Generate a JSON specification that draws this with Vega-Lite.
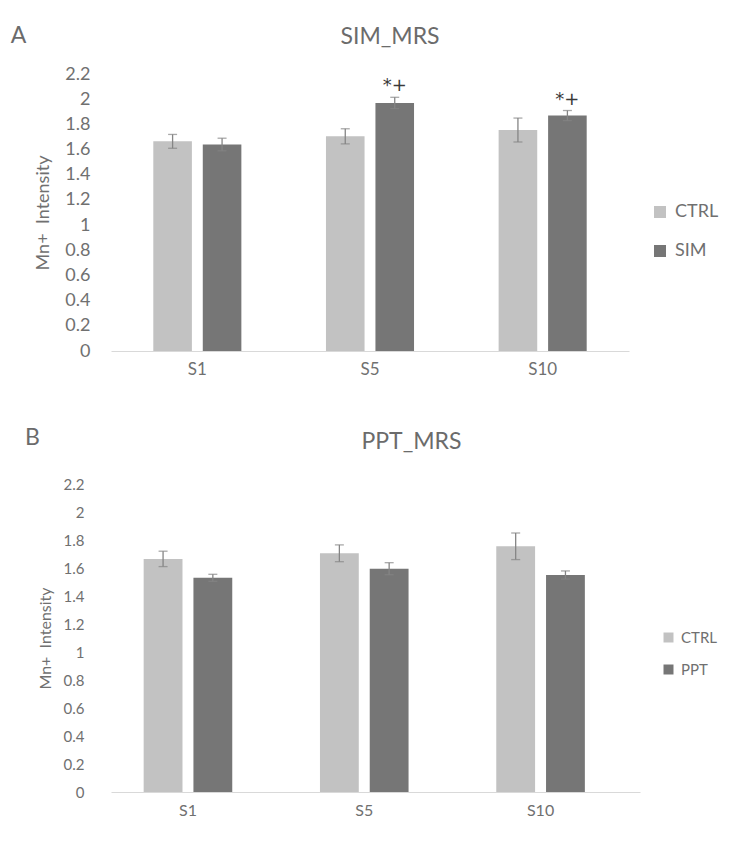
{
  "$schema": "https://vega.github.io/schema/vega-lite/v6.json",
  "padding": {"left": 10, "top": 25, "right": 5, "bottom": 5},
  "background": "white",
  "datasets": {
    "sim": [
      {"s": "S1", "g": "CTRL", "v": 1.665, "lo": 1.61, "hi": 1.72, "star": ""},
      {"s": "S1", "g": "SIM", "v": 1.64, "lo": 1.59, "hi": 1.69, "star": ""},
      {"s": "S5", "g": "CTRL", "v": 1.705, "lo": 1.645, "hi": 1.765, "star": ""},
      {"s": "S5", "g": "SIM", "v": 1.97, "lo": 1.925, "hi": 2.015, "star": "*+"},
      {"s": "S10", "g": "CTRL", "v": 1.755, "lo": 1.66, "hi": 1.85, "star": ""},
      {"s": "S10", "g": "SIM", "v": 1.87, "lo": 1.83, "hi": 1.91, "star": "*+"}
    ],
    "ppt": [
      {"s": "S1", "g": "CTRL", "v": 1.665, "lo": 1.61, "hi": 1.72},
      {"s": "S1", "g": "PPT", "v": 1.53, "lo": 1.505, "hi": 1.555},
      {"s": "S5", "g": "CTRL", "v": 1.705, "lo": 1.645, "hi": 1.765},
      {"s": "S5", "g": "PPT", "v": 1.595, "lo": 1.552, "hi": 1.638},
      {"s": "S10", "g": "CTRL", "v": 1.755, "lo": 1.66, "hi": 1.85},
      {"s": "S10", "g": "PPT", "v": 1.55, "lo": 1.521, "hi": 1.579}
    ]
  },
  "spacing": 50,
  "resolve": {
    "scale": {"x": "independent", "y": "independent", "color": "independent", "xOffset": "independent"},
    "axis": {"x": "independent", "y": "independent"},
    "legend": {"color": "independent"}
  },
  "vconcat": [
    {
      "title": {"text": "A", "anchor": "start", "frame": "bounds", "dx": -24, "offset": -22, "fontSize": 23, "font": "Lato", "fontWeight": "normal", "color": "#6b6b6b"},
      "vconcat": [
        {
          "title": {"text": "SIM_MRS", "anchor": "middle", "frame": "group", "dx": 20, "offset": 16, "fontSize": 23, "font": "Lato", "fontWeight": "normal", "color": "#6b6b6b"},
          "width": 518,
          "height": 277,
          "data": {"name": "sim"},
          "encoding": {
            "x": {"field": "s", "type": "nominal", "sort": ["S1", "S5", "S10"],
                  "scale": {"paddingInner": 0.49, "paddingOuter": 0.245},
                  "axis": {"title": null, "labelAngle": 0, "labelFontSize": 17, "labelPadding": 10, "ticks": false, "domain": true, "domainColor": "#d9d9d9", "labelColor": "#707070", "labelFont": "Lato"}},
            "xOffset": {"field": "g", "type": "nominal", "sort": ["CTRL", "SIM"], "scale": {"paddingInner": 0.22, "paddingOuter": 0}}
          },
          "layer": [
            {
              "mark": {"type": "bar"},
              "encoding": {
                "y": {"field": "v", "type": "quantitative", "scale": {"domain": [0, 2.2], "nice": false},
                      "axis": {"title": "Mn+\u00a0\u00a0Intensity", "values": [0, 0.2, 0.4, 0.6, 0.8, 1, 1.2, 1.4, 1.6, 1.8, 2, 2.2], "format": ".1~f", "labelOverlap": false, "labelBound": false, "labelFlush": false, "grid": false, "domain": false, "ticks": false, "labelPadding": 21, "labelFontSize": 18, "titleFontSize": 18, "titleFontWeight": "normal", "titlePadding": 12, "labelColor": "#707070", "titleColor": "#707070", "labelFont": "Lato", "titleFont": "Lato"}},
                "color": {"field": "g", "type": "nominal", "scale": {"domain": ["CTRL", "SIM"], "range": ["#c2c2c2", "#767676"]},
                          "legend": {"title": null, "orient": "none", "legendX": 540, "legendY": 129, "symbolType": "square", "symbolSize": 144, "symbolStrokeWidth": 0, "labelFontSize": 18, "labelOffset": 6, "rowPadding": 21, "labelColor": "#707070", "labelFont": "Lato"}}
              }
            },
            {
              "mark": {"type": "rule", "color": "#858585", "strokeWidth": 1.3},
              "encoding": {"y": {"field": "lo", "type": "quantitative",
                      "axis": {"title": "Mn+\u00a0\u00a0Intensity", "values": [0, 0.2, 0.4, 0.6, 0.8, 1, 1.2, 1.4, 1.6, 1.8, 2, 2.2], "format": ".1~f", "labelOverlap": false, "labelBound": false, "labelFlush": false, "grid": false, "domain": false, "ticks": false, "labelPadding": 21, "labelFontSize": 18, "titleFontSize": 18, "titleFontWeight": "normal", "titlePadding": 12, "labelColor": "#707070", "titleColor": "#707070", "labelFont": "Lato", "titleFont": "Lato"}},
                "y2": {"field": "hi"}}
            },
            {
              "mark": {"type": "tick", "color": "#858585", "thickness": 1.3, "size": 9},
              "encoding": {"y": {"field": "hi", "type": "quantitative",
                      "axis": {"title": "Mn+\u00a0\u00a0Intensity", "values": [0, 0.2, 0.4, 0.6, 0.8, 1, 1.2, 1.4, 1.6, 1.8, 2, 2.2], "format": ".1~f", "labelOverlap": false, "labelBound": false, "labelFlush": false, "grid": false, "domain": false, "ticks": false, "labelPadding": 21, "labelFontSize": 18, "titleFontSize": 18, "titleFontWeight": "normal", "titlePadding": 12, "labelColor": "#707070", "titleColor": "#707070", "labelFont": "Lato", "titleFont": "Lato"}}}
            },
            {
              "mark": {"type": "tick", "color": "#858585", "thickness": 1.3, "size": 9},
              "encoding": {"y": {"field": "lo", "type": "quantitative",
                      "axis": {"title": "Mn+\u00a0\u00a0Intensity", "values": [0, 0.2, 0.4, 0.6, 0.8, 1, 1.2, 1.4, 1.6, 1.8, 2, 2.2], "format": ".1~f", "labelOverlap": false, "labelBound": false, "labelFlush": false, "grid": false, "domain": false, "ticks": false, "labelPadding": 21, "labelFontSize": 18, "titleFontSize": 18, "titleFontWeight": "normal", "titlePadding": 12, "labelColor": "#707070", "titleColor": "#707070", "labelFont": "Lato", "titleFont": "Lato"}}}
            },
            {
              "mark": {"type": "text", "baseline": "alphabetic", "dy": -6, "fontSize": 18, "font": "DejaVu Sans", "color": "#3a3a3a"},
              "encoding": {"y": {"field": "hi", "type": "quantitative",
                      "axis": {"title": "Mn+\u00a0\u00a0Intensity", "values": [0, 0.2, 0.4, 0.6, 0.8, 1, 1.2, 1.4, 1.6, 1.8, 2, 2.2], "format": ".1~f", "labelOverlap": false, "labelBound": false, "labelFlush": false, "grid": false, "domain": false, "ticks": false, "labelPadding": 21, "labelFontSize": 18, "titleFontSize": 18, "titleFontWeight": "normal", "titlePadding": 12, "labelColor": "#707070", "titleColor": "#707070", "labelFont": "Lato", "titleFont": "Lato"}},
                "text": {"field": "star"}}
            }
          ]
        }
      ]
    },
    {
      "title": {"text": "B", "anchor": "start", "frame": "bounds", "dx": -12, "offset": -19, "fontSize": 23, "font": "Lato", "fontWeight": "normal", "color": "#6b6b6b"},
      "vconcat": [
        {
          "title": {"text": "PPT_MRS", "anchor": "middle", "frame": "group", "dx": 36, "offset": 23, "fontSize": 23, "font": "Lato", "fontWeight": "normal", "color": "#6b6b6b"},
          "width": 529,
          "height": 308,
          "data": {"name": "ppt"},
          "encoding": {
            "x": {"field": "s", "type": "nominal", "sort": ["S1", "S5", "S10"],
                  "scale": {"paddingInner": 0.4975, "paddingOuter": 0.249, "align": 0.372},
                  "axis": {"title": null, "labelAngle": 0, "labelFontSize": 16, "labelPadding": 10, "ticks": false, "domain": true, "domainColor": "#d9d9d9", "labelColor": "#707070", "labelFont": "Lato"}},
            "xOffset": {"field": "g", "type": "nominal", "sort": ["CTRL", "PPT"], "scale": {"paddingInner": 0.22, "paddingOuter": 0}}
          },
          "layer": [
            {
              "mark": {"type": "bar"},
              "encoding": {
                "y": {"field": "v", "type": "quantitative", "scale": {"domain": [0, 2.2], "nice": false},
                      "axis": {"title": "Mn+\u00a0\u00a0Intensity", "values": [0, 0.2, 0.4, 0.6, 0.8, 1, 1.2, 1.4, 1.6, 1.8, 2, 2.2], "format": ".1~f", "labelOverlap": false, "labelBound": false, "labelFlush": false, "grid": false, "domain": false, "ticks": false, "labelPadding": 27, "labelFontSize": 15, "titleFontSize": 16, "titleFontWeight": "normal", "titlePadding": 10, "labelColor": "#707070", "titleColor": "#707070", "labelFont": "Lato", "titleFont": "Lato"}},
                "color": {"field": "g", "type": "nominal", "scale": {"domain": ["CTRL", "PPT"], "range": ["#c2c2c2", "#767676"]},
                          "legend": {"title": null, "orient": "none", "legendX": 550, "legendY": 146, "symbolType": "square", "symbolSize": 100, "symbolStrokeWidth": 0, "labelFontSize": 15, "labelOffset": 5, "rowPadding": 16, "labelColor": "#707070", "labelFont": "Lato"}}
              }
            },
            {
              "mark": {"type": "rule", "color": "#858585", "strokeWidth": 1.3},
              "encoding": {"y": {"field": "lo", "type": "quantitative",
                      "axis": {"title": "Mn+\u00a0\u00a0Intensity", "values": [0, 0.2, 0.4, 0.6, 0.8, 1, 1.2, 1.4, 1.6, 1.8, 2, 2.2], "format": ".1~f", "labelOverlap": false, "labelBound": false, "labelFlush": false, "grid": false, "domain": false, "ticks": false, "labelPadding": 27, "labelFontSize": 15, "titleFontSize": 16, "titleFontWeight": "normal", "titlePadding": 10, "labelColor": "#707070", "titleColor": "#707070", "labelFont": "Lato", "titleFont": "Lato"}},
                "y2": {"field": "hi"}}
            },
            {
              "mark": {"type": "tick", "color": "#858585", "thickness": 1.3, "size": 9},
              "encoding": {"y": {"field": "hi", "type": "quantitative",
                      "axis": {"title": "Mn+\u00a0\u00a0Intensity", "values": [0, 0.2, 0.4, 0.6, 0.8, 1, 1.2, 1.4, 1.6, 1.8, 2, 2.2], "format": ".1~f", "labelOverlap": false, "labelBound": false, "labelFlush": false, "grid": false, "domain": false, "ticks": false, "labelPadding": 27, "labelFontSize": 15, "titleFontSize": 16, "titleFontWeight": "normal", "titlePadding": 10, "labelColor": "#707070", "titleColor": "#707070", "labelFont": "Lato", "titleFont": "Lato"}}}
            },
            {
              "mark": {"type": "tick", "color": "#858585", "thickness": 1.3, "size": 9},
              "encoding": {"y": {"field": "lo", "type": "quantitative",
                      "axis": {"title": "Mn+\u00a0\u00a0Intensity", "values": [0, 0.2, 0.4, 0.6, 0.8, 1, 1.2, 1.4, 1.6, 1.8, 2, 2.2], "format": ".1~f", "labelOverlap": false, "labelBound": false, "labelFlush": false, "grid": false, "domain": false, "ticks": false, "labelPadding": 27, "labelFontSize": 15, "titleFontSize": 16, "titleFontWeight": "normal", "titlePadding": 10, "labelColor": "#707070", "titleColor": "#707070", "labelFont": "Lato", "titleFont": "Lato"}}}
            }
          ]
        }
      ]
    }
  ],
  "config": {
    "view": {"stroke": null},
    "font": "Lato",
    "axisY": {"labelOverlap": false}
  }
}
